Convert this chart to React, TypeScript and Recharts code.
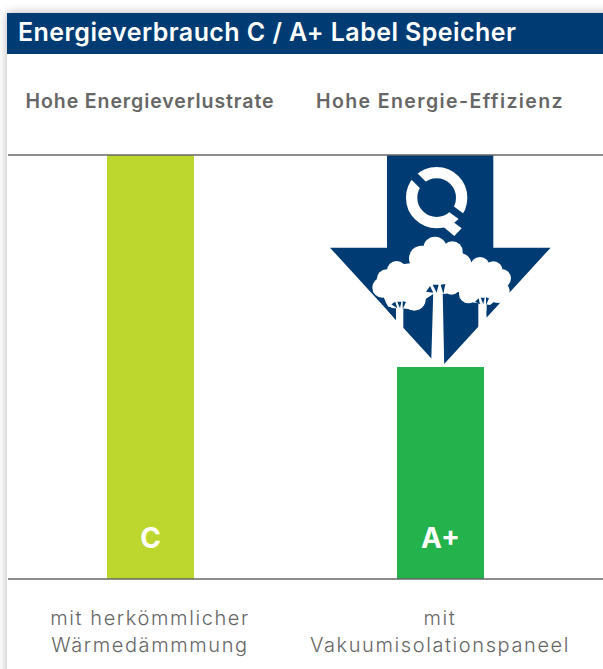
import React from "react";
import { BarChart, Bar, XAxis, YAxis, Cell, LabelList } from "recharts";

const title = "Energieverbrauch C / A+ Label Speicher";
const categories = ["C", "A+"];
const consumption = [100, 50];
const barColors = ["#BED72E", "#23B24C"];
const topLabels = ["Hohe Energieverlustrate", "Hohe Energie-Effizienz"];
const bottomLabels = [
  ["mit herkömmlicher", "Wärmedämmmung"],
  ["mit", "Vakuumisolationspaneel"],
];

const data = categories.map((c, i) => ({ grade: c, value: consumption[i] }));

const NAVY = "#003C73";
const GREY = "#666666";
const FONT = "Inter, 'Noto Sans', sans-serif";

function TopTick({ x, payload, index }: any) {
  const i = index ?? payload.index;
  return (
    <text x={x} y={108} textAnchor="middle" fontFamily={FONT} fontWeight={600} fontSize={19.5} letterSpacing={i === 0 ? 0.9 : 1.4} fill={GREY}>
      {topLabels[i]}
    </text>
  );
}

function BottomTick({ x, payload, index }: any) {
  const lines = bottomLabels[index ?? payload.index];
  return (
    <text textAnchor="middle" fontFamily={FONT} fontWeight={300} fontSize={20} letterSpacing={1.6} fill={GREY}>
      {lines.map((l, i) => (
        <tspan key={l} x={x} y={625 + i * 27}>
          {l}
        </tspan>
      ))}
    </text>
  );
}

// arrow + logo + trees, drawn in the coords of a 3x crop of that area
function ArrowIcon() {
  return (
    <g transform="translate(320 150) scale(0.3333)">
      <path d="M201 15 H520 V293 H692 L361 655 L30 293 H201 Z" fill={NAVY} />
      {/* Q logo */}
      <circle cx={350} cy={143} r={75} fill="none" stroke="#fff" strokeWidth={34} />
      <line x1={268} y1={64} x2={325} y2={121} stroke={NAVY} strokeWidth={26} />
      <line x1={370} y1={160} x2={445} y2={215} stroke={NAVY} strokeWidth={22} />
      <path d="M385 205 L425 235 L403 258 L360 222 Z" fill="#fff" />
      {/* crowns */}
      <g fill="#fff">
        <path d="M170 400 L230 345 L270 340 L345 280 L420 300 L450 335 L540 370 L555 430 L510 465 L445 455 L415 425 L372 432 H340 L320 445 L290 480 L205 470 Z" />
        <circle cx={345} cy={295} r={35} />
        <circle cx={397} cy={305} r={31} />
        <circle cx={305} cy={325} r={38} />
        <circle cx={422} cy={342} r={32} />
        <circle cx={230} cy={362} r={29} />
        <circle cx={200} cy={388} r={30} />
        <circle cx={187} cy={413} r={30} />
        <circle cx={283} cy={448} r={34} />
        <circle cx={225} cy={445} r={30} />
        <circle cx={480} cy={350} r={29} />
        <circle cx={520} cy={362} r={28} />
        <circle cx={545} cy={385} r={28} />
        <circle cx={445} cy={432} r={28} />
        <circle cx={535} cy={425} r={34} />
        <circle cx={395} cy={408} r={26} />
        {/* trunks */}
        <path d="M340 420 H368 L373 660 H333 Z" />
        <path d="M228 470 H250 V560 H228 Z" />
        <path d="M475 460 H500 V540 H475 Z" />
      </g>
      {/* blue gaps under the crowns */}
      <g fill={NAVY}>
        <path d="M318 425 L330 408 L340 428 Z" />
        <path d="M338 404 L356 404 L350 428 Z" />
        <path d="M362 404 L376 402 L370 432 Z" />
        <path d="M214 463 L226 455 L232 475 Z" />
        <path d="M232 455 L244 455 L240 475 Z" />
        <path d="M248 454 L258 456 L248 478 Z" />
        <path d="M465 455 L476 445 L480 463 Z" />
        <path d="M482 443 L494 443 L490 463 Z" />
        <path d="M498 442 L507 445 L498 466 Z" />
        <path d="M197 474 L213 472 L228 505 V511 Z" />
        <path d="M500 498 V482 L530 468 Z" />
      </g>
    </g>
  );
}

export default function App() {
  return (
    <div style={{ position: "absolute", left: 0, top: 0, width: 603, height: 669, overflow: "hidden", background: "#fff" }}>
      <div style={{ position: "absolute", left: 7, top: 13, width: 700, height: 800, background: "#fff", boxShadow: "0 0 9px rgba(0,0,0,0.3)" }} />
      <div
        style={{
          position: "absolute",
          left: 7,
          top: 13,
          width: 700,
          height: 41,
          background: NAVY,
          color: "#fff",
          fontFamily: FONT,
          fontWeight: 600,
          fontSize: 25,
          letterSpacing: 0.43,
          lineHeight: "39px",
          paddingLeft: 11,
          boxSizing: "border-box",
          whiteSpace: "nowrap",
        }}
      >
        {title}
      </div>
      <div style={{ position: "absolute", left: 0, top: 0 }}>
        <BarChart width={603} height={669} data={data} margin={{ top: 125, right: 0, bottom: 60, left: 8 }} barCategoryGap={0}>
          <YAxis hide domain={[0, 100]} />
          <XAxis
            dataKey="grade"
            interval={0}
            padding={{ left: -3, right: 18 }}
            tickLine={false}
            axisLine={{ stroke: GREY, strokeWidth: 1.4 }}
            tick={<BottomTick />}
          />
          <XAxis
            dataKey="grade"
            xAxisId="top"
            orientation="top"
            interval={0}
            padding={{ left: -3, right: 18 }}
            tickLine={false}
            axisLine={{ stroke: GREY, strokeWidth: 1.4 }}
            tick={<TopTick />}
          />
          <Bar dataKey="value" barSize={87} isAnimationActive={false}>
            {data.map((d, i) => (
              <Cell key={d.grade} fill={barColors[i]} />
            ))}
            <LabelList dataKey="grade" position="insideBottom" offset={31} fill="#fff" fontFamily={FONT} fontWeight={700} fontSize={28} />
          </Bar>
          <ArrowIcon />
        </BarChart>
      </div>
    </div>
  );
}
